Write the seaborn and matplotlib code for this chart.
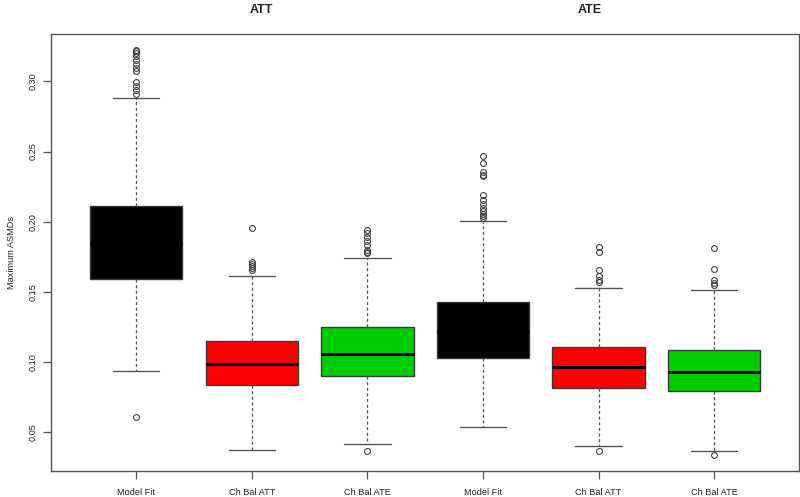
"""Boxplots of maximum ASMDs for model fit vs covariate balancing (ATT / ATE)."""

import matplotlib
matplotlib.use("Agg")
import matplotlib.pyplot as plt
import matplotlib.transforms as mtransforms
import seaborn as sns

# --- data ------------------------------------------------------------------
labels = ["Model Fit", "Ch Bal ATT", "Ch Bal ATE",
          "Model Fit", "Ch Bal ATT", "Ch Bal ATE"]
colors = ["#000000", "#FF0000", "#00CD00",
          "#000000", "#FF0000", "#00CD00"]

q1 = [0.1589, 0.0833, 0.0898, 0.1029, 0.0810, 0.0789]
median = [0.1850, 0.0981, 0.1057, 0.1220, 0.0964, 0.0926]
q3 = [0.2112, 0.1148, 0.1246, 0.1424, 0.1103, 0.1081]
whisker_lo = [0.0934, 0.0369, 0.0412, 0.0536, 0.0396, 0.0362]
whisker_hi = [0.2879, 0.1610, 0.1739, 0.2005, 0.1529, 0.1512]

outliers_model_att = [0.3226, 0.3215, 0.3203, 0.3179, 0.3155, 0.3126, 0.3096,
                      0.3076, 0.2993, 0.2964, 0.2936, 0.2912, 0.0603]
outliers_cb_att = [0.1957, 0.1714, 0.1700, 0.1685, 0.1668, 0.1652]
outliers_cb_ate = [0.1940, 0.1915, 0.1890, 0.1860, 0.1830, 0.1800,
                   0.1785, 0.1775, 0.0362]
outliers_model_ate = [0.2471, 0.2417, 0.2353, 0.2335, 0.2322, 0.2191, 0.2156,
                      0.2125, 0.2100, 0.2075, 0.2055, 0.2040, 0.2025]
outliers_cb_att2 = [0.1819, 0.1784, 0.1655, 0.1610, 0.1585, 0.1570, 0.0362]
outliers_cb_ate2 = [0.1812, 0.1662, 0.1580, 0.1560, 0.1550, 0.0334]

group_titles = ["ATT", "ATE"]
y_ticks = [0.05, 0.10, 0.15, 0.20, 0.25, 0.30]
y_label = "Maximum ASMDs"

# --- figure ------------------------------------------------------------------
sns.set_style("white")
plt.rcParams["font.family"] = ["Liberation Sans", "DejaVu Sans"]

fig = plt.figure(figsize=(8, 4.97), dpi=100)
ax = fig.add_axes([0.064, 0.052, 0.935, 0.880])

all_outliers = [outliers_model_att, outliers_cb_att, outliers_cb_ate,
                outliers_model_ate, outliers_cb_att2, outliers_cb_ate2]
stats = []
for i in range(len(labels)):
    stats.append(dict(med=median[i], q1=q1[i], q3=q3[i],
                      whislo=whisker_lo[i], whishi=whisker_hi[i],
                      fliers=all_outliers[i], label=labels[i]))

positions = list(range(1, len(labels) + 1))
bp = ax.bxp(
    stats,
    positions=positions,
    widths=0.8,
    capwidths=0.4,
    patch_artist=True,
    boxprops=dict(edgecolor="#3a3a3a", linewidth=1.0),
    medianprops=dict(color="black", linewidth=2.2),
    whiskerprops=dict(color="#555555", linewidth=0.9, linestyle=(0, (2.5, 2))),
    capprops=dict(color="#555555", linewidth=1.0),
    flierprops=dict(marker="o", markersize=4.2, markerfacecolor="none",
                    markeredgecolor="#444444", markeredgewidth=0.8,
                    linestyle="none"),
)
for patch, c in zip(bp["boxes"], colors):
    patch.set_facecolor(c)

ax.set_xlim(0.265, 6.735)
ax.set_ylim(0.0219, 0.334)
ax.set_yticks(y_ticks)
ax.set_yticklabels([f"{t:.2f}" for t in y_ticks], rotation=90, va="center")
ax.set_xticks(positions)
ax.set_xticklabels(labels)
ax.tick_params(axis="both", which="major", direction="out", length=6,
               width=0.9, color="#555555", labelsize=6.6, pad=4,
               left=True, bottom=True)
ax.tick_params(axis="x", pad=6)
ax.set_ylabel(y_label, fontsize=6.6, labelpad=9)

for s in ax.spines.values():
    s.set_visible(True)
    s.set_color("#555555")
    s.set_linewidth(1.0)

trans = mtransforms.blended_transform_factory(ax.transData, fig.transFigure)
for xpos, title in zip([2.08, 4.92], group_titles):
    ax.text(xpos, 0.979, title, transform=trans, ha="center", va="center",
            fontsize=9, fontweight="bold")

fig.savefig("out.png", dpi=100)
plt.close(fig)
